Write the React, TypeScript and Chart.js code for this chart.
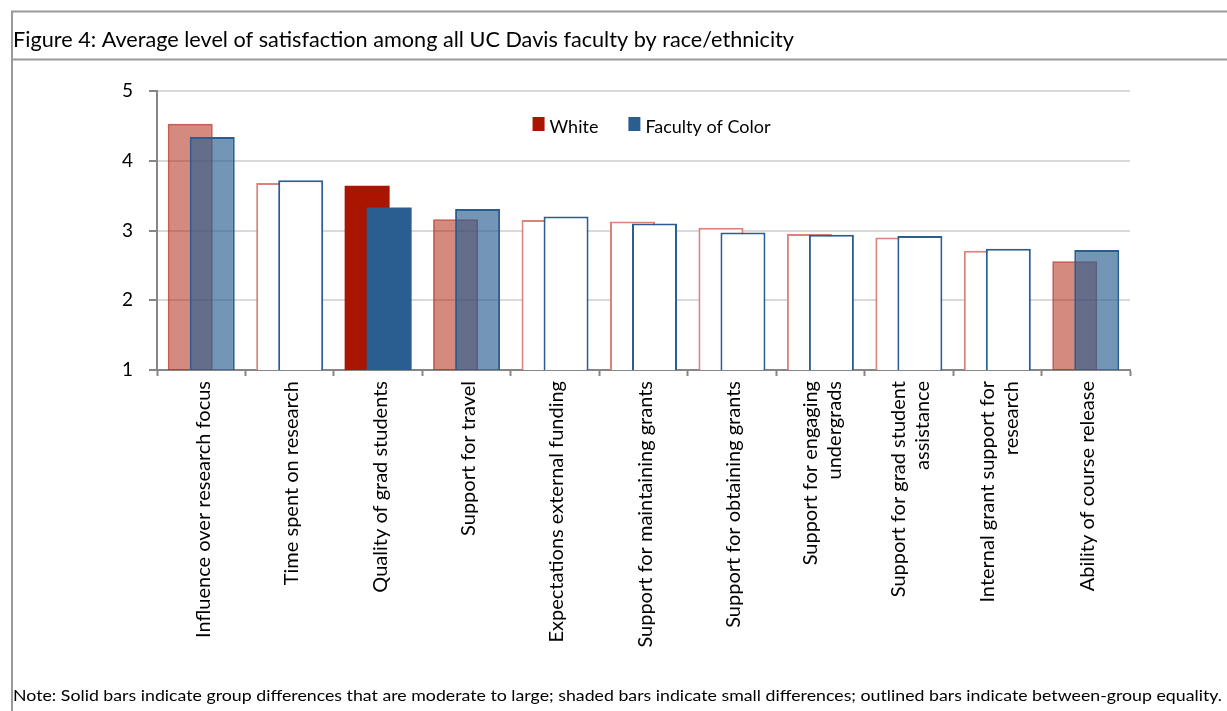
import React, { useEffect, useRef } from 'react';
import { Chart, registerables } from 'chart.js';

Chart.register(...registerables);

// Survey items (x categories); multi-line labels are given as arrays
const categories: (string | string[])[] = [
  'Influence over research focus',
  'Time spent on research',
  'Quality of grad students',
  'Support for travel',
  'Expectations external funding',
  'Support for maintaining grants',
  'Support for obtaining grants',
  ['Support for engaging', 'undergrads'],
  ['Support for grad student', 'assistance'],
  ['Internal grant support for', 'research'],
  'Ability of course release',
];

// Average satisfaction (1-5 scale)
const whiteValues = [4.53, 3.68, 3.64, 3.16, 3.15, 3.13, 3.04, 2.95, 2.9, 2.71, 2.56];
const colorValues = [4.34, 3.72, 3.33, 3.31, 3.2, 3.1, 2.97, 2.94, 2.92, 2.74, 2.72];

// Size of the group difference for each item
const differenceLevels = [
  'small', 'equal', 'large', 'small', 'equal', 'equal',
  'equal', 'equal', 'equal', 'equal', 'small',
];

const yMin = 1;
const yMax = 5;
const yStep = 1;

const seriesNames = ['White', 'Faculty of Color'];

const TITLE = 'Figure 4: Average level of satisfaction among all UC Davis faculty by race/ethnicity';
const NOTE =
  'Note: Solid bars indicate group differences that are moderate to large; shaded bars indicate small differences; outlined bars indicate between-group equality.';

const FONT = 'Lato, "Open Sans", sans-serif';

const palette = {
  white: {
    large: { fill: '#AA1500', border: '#AA1500', width: 0 },
    small: { fill: 'rgba(170,21,0,0.5)', border: 'rgba(180,40,25,0.75)', width: 2 },
    equal: { fill: '#FFFFFF', border: '#DC8279', width: 2 },
  },
  color: {
    large: { fill: '#2A5E91', border: '#2A5E91', width: 0 },
    small: { fill: 'rgba(40,94,145,0.65)', border: '#2A5E91', width: 2 },
    equal: { fill: '#FFFFFF', border: '#2A5E91', width: 2 },
  },
} as const;

type Level = 'large' | 'small' | 'equal';

function styleFor(series: 'white' | 'color') {
  const p = palette[series];
  return {
    backgroundColor: differenceLevels.map((l) => p[l as Level].fill),
    borderColor: differenceLevels.map((l) => p[l as Level].border),
    borderWidth: differenceLevels.map((l) => p[l as Level].width),
  };
}

// Draw text stretched/condensed to an exact width
function fitText(ctx: CanvasRenderingContext2D, text: string, x: number, y: number, width: number) {
  const w = ctx.measureText(text).width;
  ctx.save();
  ctx.translate(x, y);
  ctx.scale(width / w, 1);
  ctx.fillText(text, 0, 0);
  ctx.restore();
}

// Frame, heading and footnote
const framePlugin = {
  id: 'frame',
  beforeDraw(chart: Chart) {
    const ctx = chart.ctx;
    ctx.save();
    ctx.fillStyle = '#FFFFFF';
    ctx.fillRect(0, 0, chart.width, chart.height);
    ctx.strokeStyle = '#9A9A9A';
    ctx.lineWidth = 2;
    ctx.beginPath();
    ctx.moveTo(11, 11.5);
    ctx.lineTo(chart.width, 11.5);
    ctx.moveTo(12, 11);
    ctx.lineTo(12, chart.height);
    ctx.moveTo(11, 59.5);
    ctx.lineTo(chart.width, 59.5);
    ctx.stroke();

    ctx.fillStyle = '#000000';
    ctx.textBaseline = 'alphabetic';
    ctx.textAlign = 'left';
    ctx.font = `22px ${FONT}`;
    fitText(ctx, TITLE, 13, 47, 781);
    ctx.font = `16px ${FONT}`;
    fitText(ctx, NOTE, 13, 700.5, 1209);
    ctx.restore();
  },
  afterDraw(chart: Chart) {
    const ctx = chart.ctx;
    const area = chart.chartArea;
    ctx.save();

    // Legend row inside the plot area
    ctx.font = `18px ${FONT}`;
    ctx.textBaseline = 'alphabetic';
    ctx.textAlign = 'left';
    const fills = [palette.white.large.fill, palette.color.large.fill];
    const box = 12;
    const gap = 5;
    const itemGap = 30;
    const widths = seriesNames.map((n) => ctx.measureText(n).width);
    const total = widths.reduce((s, w) => s + box + gap + w, 0) + itemGap * (seriesNames.length - 1);
    let x = (area.left + area.right) / 2 + 8 - total / 2;
    const top = area.top + 26;
    seriesNames.forEach((name, i) => {
      ctx.fillStyle = fills[i];
      ctx.fillRect(x, top, box, 14);
      ctx.fillStyle = '#000000';
      ctx.fillText(name, x + box + gap, top + 16);
      x += box + gap + widths[i] + itemGap;
    });

    // Rotated category labels, each block centred on its tick
    const xScale = chart.scales.x as any;
    const lineHeight = 24;
    ctx.font = `20px ${FONT}`;
    ctx.textAlign = 'right';
    ctx.textBaseline = 'middle';
    ctx.fillStyle = '#000000';
    categories.forEach((label, i) => {
      const lines = Array.isArray(label) ? label : [label];
      const px = xScale.getPixelForTick(i) + 2;
      ctx.save();
      ctx.translate(px, area.bottom + 11);
      ctx.rotate(-Math.PI / 2);
      lines.forEach((line, j) => {
        ctx.fillText(line, 0, (j - (lines.length - 1) / 2) * lineHeight);
      });
      ctx.restore();
    });
    ctx.restore();
  },
};

// Paint datasets in data order so the second series sits over the first
const seriesOrderPlugin = {
  id: 'seriesOrder',
  beforeDatasetsDraw(chart: Chart) {
    const metas = chart.getSortedVisibleDatasetMetas();
    for (const meta of metas) {
      const c = chart as any;
      if (typeof c._drawDataset === 'function') c._drawDataset(meta);
      else meta.controller.draw();
    }
    return false;
  },
};

export default function App() {
  const canvasRef = useRef<HTMLCanvasElement>(null);

  useEffect(() => {
    const canvas = canvasRef.current;
    if (!canvas) return;
    Chart.defaults.font.family = FONT;

    const chart = new Chart(canvas, {
      type: 'bar',
      data: {
        labels: categories as any,
        datasets: [
          {
            label: seriesNames[0],
            data: whiteValues,
            ...styleFor('white'),
            categoryPercentage: 0.4975,
            barPercentage: 2.045,
          },
          {
            label: seriesNames[1],
            data: colorValues,
            ...styleFor('color'),
            categoryPercentage: 0.4975,
            barPercentage: 2.045,
          },
        ],
      },
      options: {
        responsive: false,
        animation: false,
        layout: { padding: { left: 97, right: 97, top: 91, bottom: 41 } },
        plugins: {
          tooltip: { enabled: false },
          legend: { display: false },
        },
        scales: {
          x: {
            type: 'category',
            offset: true,
            z: 1,
            grid: {
              display: true,
              offset: true,
              drawOnChartArea: false,
              drawTicks: true,
              tickLength: 6,
              tickColor: '#868686',
              tickWidth: 2,
            } as any,
            border: { display: true, color: '#868686', width: 2 },
            ticks: {
              display: false,
              autoSkip: false,
            },
            afterFit: (scale: any) => {
              scale.height = 300;
            },
          },
          y: {
            min: yMin,
            max: yMax,
            ticks: {
              stepSize: yStep,
              padding: 16,
              color: '#000000',
              font: { size: 19, family: FONT },
            },
            grid: {
              color: '#D9D9D9',
              lineWidth: 2,
              tickColor: '#868686',
              tickLength: 8,
              tickWidth: 2,
            } as any,
            border: { display: true, color: '#868686', width: 2 },
            afterFit: (scale: any) => {
              scale.width = 60;
            },
          },
        },
      },
      plugins: [framePlugin, seriesOrderPlugin],
    });

    return () => chart.destroy();
  }, []);

  return (
    <div
      style={{
        position: 'fixed',
        left: 0,
        top: 0,
        width: 1227,
        height: 711,
        background: '#FFFFFF',
      }}
    >
      <canvas ref={canvasRef} width={1227} height={711} style={{ display: 'block' }} />
    </div>
  );
}
